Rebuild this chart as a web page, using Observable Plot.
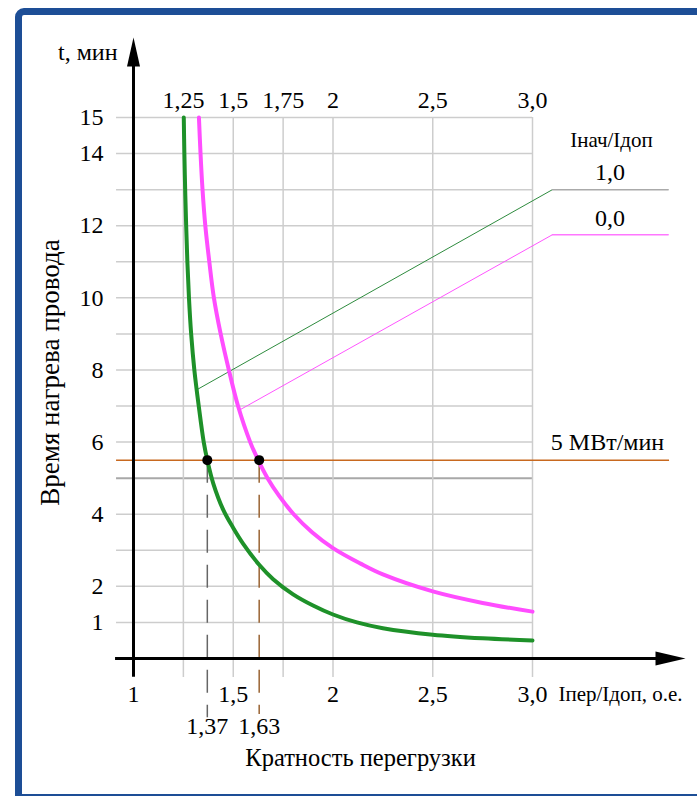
<!DOCTYPE html>
<html><head><meta charset="utf-8">
<script src="https://cdn.jsdelivr.net/npm/d3@7"></script>
<script src="https://cdn.jsdelivr.net/npm/@observablehq/plot@0.6"></script>
<style>
html,body{margin:0;padding:0;background:#fff;overflow:hidden;width:697px;height:796px;}
#frame{position:absolute;left:15px;top:8px;width:760px;height:793px;border:7px solid #1d4e96;border-top-left-radius:9px;box-sizing:border-box;}
#chart{position:absolute;left:0;top:0;}
#chart svg, #chart svg text, #chart svg tspan{font-family:"Liberation Serif","Times New Roman","DejaVu Serif",serif !important;}
</style></head><body>
<div id="frame"></div><div id="chart"></div>
<script>
// Curve Iнач/Iдоп = 1,0 (green): overload ratio x vs heating time t, min
const greenX = [1.252,1.255,1.259,1.264,1.270,1.278,1.289,1.305,1.327,1.352,1.370,1.40,1.45,1.50,1.55,1.63,1.70,1.80,1.90,2.00,2.12,2.25,2.50,2.75,3.00];
const greenT = [15,14,13,12,11,10,9,8,7,6,5.5,4.85,4.12,3.62,3.18,2.6,2.2,1.78,1.47,1.22,1.0,0.84,0.66,0.56,0.50];
// Curve Iнач/Iдоп = 0,0 (pink)
const pinkX = [1.328,1.336,1.346,1.360,1.380,1.403,1.437,1.478,1.524,1.585,1.625,1.672,1.731,1.803,1.895,2.0,2.138,2.25,2.5,2.75,3.0];
const pinkT = [15,14,13,12,11,10,9,8,7,6,5.5,5,4.5,4,3.5,3.06,2.63,2.33,1.86,1.54,1.30];

// leader lines to the legend values
const ratioLabels = ["1,0", "0,0"];
const leaderStartX = [1.32, 1.535];
const leaderStartT = [7.46, 6.9];
const leaderBendX = [3.1, 3.1];
const leaderEndX = [3.68, 3.68];
const leaderT = [13, 11.75];

// limit 5 МВт/мин
const limitT = 5.5;
const limitLabel = "5 МВт/мин";
const crossX = [1.37, 1.63];
const crossLabels = ["1,37", "1,63"];

// ticks
const topTicks = [1.25, 1.5, 1.75, 2, 2.5, 3];
const topLabels = ["1,25", "1,5", "1,75", "2", "2,5", "3,0"];
const bottomTicks = [1, 1.5, 2, 2.5, 3];
const bottomLabels = ["1", "1,5", "2", "2,5", "3,0"];
const yTicks = [15, 14, 12, 10, 8, 6, 4, 2, 1];
const yLabels = ["15", "14", "12", "10", "8", "6", "4", "2", "1"];
const hGrid = [1,2,3,4,5,6,7,8,9,10,11,12,13,14,15];
const vGrid = [1.25, 1.5, 1.75, 2, 2.5, 3];

const green = greenX.map((x, i) => ({x, t: greenT[i]}));
const pink = pinkX.map((x, i) => ({x, t: pinkT[i]}));
const leaders = ratioLabels.map((k, i) => [
  {k, x: leaderStartX[i], t: leaderStartT[i]},
  {k, x: leaderBendX[i], t: leaderT[i]}
]);
const tails = ratioLabels.map((k, i) => [
  {k, x: leaderBendX[i], t: leaderT[i]},
  {k, x: leaderEndX[i], t: leaderT[i]}
]);

const serif = "Liberation Serif";
const fmt = (ticks, labels) => d => labels[ticks.indexOf(d)];

const upHead = {draw(ctx) { ctx.moveTo(0, 0); ctx.lineTo(-6.5, 29); ctx.lineTo(6.5, 29); ctx.closePath(); }};
const rightHead = {draw(ctx) { ctx.moveTo(0, 0); ctx.lineTo(-30, -7); ctx.lineTo(-30, 7); ctx.closePath(); }};

const chart = Plot.plot({
  width: 697,
  height: 796,
  marginLeft: 133,
  marginRight: 165,
  marginTop: 117,
  marginBottom: 138,
  x: {domain: [1, 3]},
  y: {domain: [0, 15]},
  style: {fontFamily: serif, fontSize: "24px", color: "black", background: "transparent", overflow: "visible"},
  marks: [
    // grid
    Plot.ruleY(hGrid.filter(d => d !== 5), {x1: 0.915, x2: 3, stroke: "#cdcdcd", strokeWidth: 1.5}),
    Plot.ruleY(hGrid.filter(d => d === 5), {x1: 0.915, x2: 3, stroke: "#a8a8a8", strokeWidth: 2}),
    Plot.ruleX(vGrid, {y1: -0.53, y2: 15, stroke: "#cdcdcd", strokeWidth: 1.5}),
    // leader lines
    Plot.line(leaders[0], {x: "x", y: "t", stroke: "#2e8b3e", strokeWidth: 1}),
    Plot.line(tails[0], {x: "x", y: "t", stroke: "#aaaaaa", strokeWidth: 1.5}),
    Plot.line(leaders[1], {x: "x", y: "t", stroke: "#ff55ff", strokeWidth: 1}),
    Plot.line(tails[1], {x: "x", y: "t", stroke: "#ff77ff", strokeWidth: 1.5}),
    // limit line
    Plot.ruleY([limitT], {x1: 0.915, x2: 3.687, stroke: "#c8691f", strokeWidth: 1.5}),
    // dashed projections
    Plot.ruleX([crossX[0]], {y1: limitT, y2: -1.64, stroke: "#666666", strokeWidth: 1.5, strokeDasharray: "23,12"}),
    Plot.ruleX([crossX[1]], {y1: limitT, y2: -1.55, stroke: "#9a6434", strokeWidth: 1.5, strokeDasharray: "23,12"}),
    // curves
    Plot.line(green, {x: "x", y: "t", stroke: "#1e9129", strokeWidth: 4, curve: "catmull-rom"}),
    Plot.line(pink, {x: "x", y: "t", stroke: "#ff4dff", strokeWidth: 4, curve: "catmull-rom"}),
    // intersection points
    Plot.dot(crossX, {x: d => d, y: () => limitT, r: 5, fill: "black", stroke: "none"}),
    // axes lines with arrows
    Plot.ruleX([1], {y1: -0.52, y2: 16.6, stroke: "black", strokeWidth: 3}),
    Plot.ruleY([0], {x1: 0.91, x2: 3.64, stroke: "black", strokeWidth: 3}),
    Plot.dot([1], {x: d => d, y: () => 17.22, symbol: upHead, fill: "black", stroke: "none"}),
    Plot.dot([0], {x: () => 3.767, y: d => d, symbol: rightHead, fill: "black", stroke: "none"}),
    // tick labels
    Plot.axisX(topTicks, {anchor: "top", tickSize: 0, tickPadding: 10, tickFormat: fmt(topTicks, topLabels), label: null, fontSize: 24, fontFamily: serif}),
    Plot.axisX(bottomTicks, {anchor: "bottom", tickSize: 0, tickPadding: 26, tickFormat: fmt(bottomTicks, bottomLabels), label: null, fontSize: 24, fontFamily: serif}),
    Plot.axisX(crossX, {anchor: "bottom", tickSize: 0, tickPadding: 58, tickFormat: fmt(crossX, crossLabels), label: null, fontSize: 24, fontFamily: serif}),
    Plot.axisY(yTicks, {anchor: "left", tickSize: 0, tickPadding: 30, tickFormat: fmt(yTicks, yLabels), label: null, fontSize: 24, fontFamily: serif}),
    // annotations
    Plot.text(["Iнач/Iдоп"], {x: () => 3.396, y: () => 14.36, fontSize: 21, fontFamily: serif}),
    Plot.text(ratioLabels, {x: () => 3.388, y: (d, i) => [13.47, 12.2][i], fontSize: 24, fontFamily: serif}),
    Plot.text([limitLabel], {x: () => 3.376, y: () => 5.99, fontSize: 24, fontFamily: serif}),
    Plot.text(["t, мин"], {x: () => 0.92, y: () => 16.8, textAnchor: "end", fontSize: 24, fontFamily: serif}),
    Plot.text(["Iпер/Iдоп, о.е."], {x: () => 3.13, y: () => -1.0, textAnchor: "start", fontSize: 21, fontFamily: serif}),
    Plot.text(["Кратность перегрузки"], {x: () => 2.138, y: () => -2.77, fontSize: 24.5, fontFamily: serif}),
    Plot.text(["Время нагрева провода"], {x: () => 0.584, y: () => 7.93, rotate: -90, fontSize: 27, fontFamily: serif})
  ]
});
document.getElementById("chart").appendChild(chart);
</script>
</body></html>
